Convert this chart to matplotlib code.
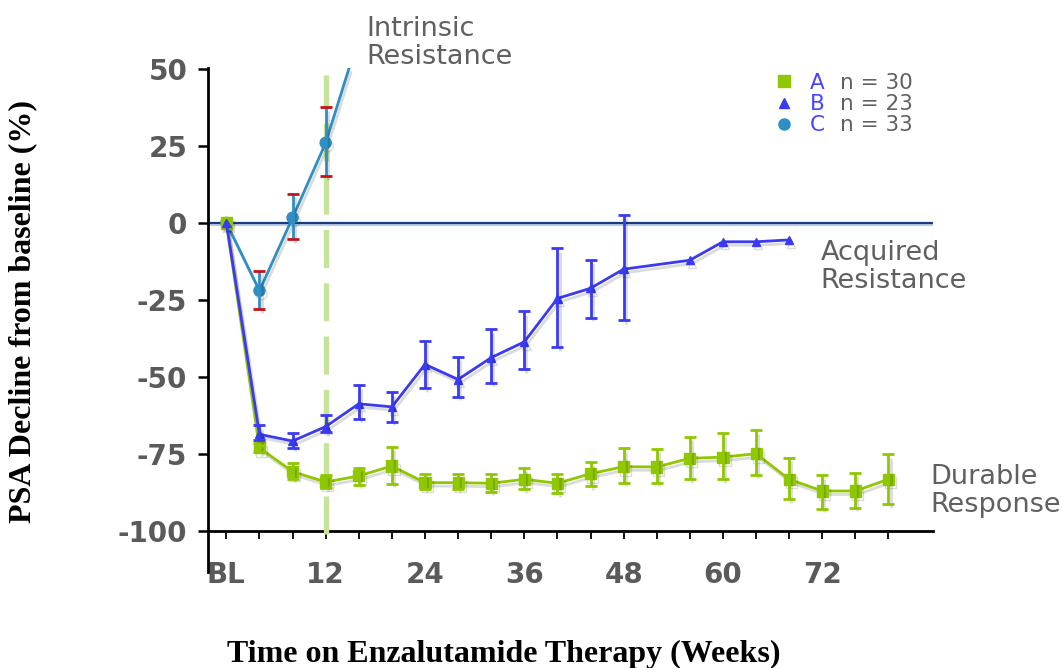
import numpy as np
import matplotlib
matplotlib.use("Agg")
import matplotlib.pyplot as plt
import matplotlib.patheffects as pe
from matplotlib.lines import Line2D
from matplotlib.transforms import IdentityTransform

# weeks on therapy (0 = baseline)
a_weeks = [0, 4, 8, 12, 16, 20, 24, 28, 32, 36, 40, 44, 48, 52, 56, 60, 64, 68, 72, 76, 80]
a_vals = [0, -73, -80.7, -84.1, -82.1, -78.9, -84.3, -84.3, -84.5, -83.2, -84.5, -81.4,
          -79.1, -79.2, -76.4, -76, -74.9, -83.2, -87, -87, -83.2]
a_hi = [np.nan, -71.5, -78, -81.7, -79.5, -72.7, -81.4, -81.4, -81.5, -79.4, -81.4, -77.5,
        -73.2, -73.3, -69.4, -68.3, -67.3, -76.2, -81.9, -81, -75.1]
a_lo = [np.nan, -74.5, -83, -86, -85, -84.6, -86.3, -86.3, -87.3, -86.5, -87.8, -85.4,
        -84.3, -84.3, -83.2, -83.2, -81.8, -89.7, -92.8, -92.5, -91.3]

b_weeks = [0, 4, 8, 12, 16, 20, 24, 28, 32, 36, 40, 44, 48, 56, 60, 64, 68]
b_vals = [0, -68.6, -70.8, -66.1, -58.7, -59.7, -45.9, -50.8, -43.7, -38.6, -24.5, -21.2,
          -15, -12.1, -6.1, -6.1, -5.5]
b_hi = [np.nan, -65.7, -68.3, -62.4, -52.7, -54.9, -38.3, -43.5, -34.5, -28.6, -8.2, -12,
        2.6, np.nan, np.nan, np.nan, np.nan]
b_lo = [np.nan, -70.5, -73, -68, -63.5, -64.5, -53.7, -56.5, -51.8, -47.5, -40.3, -30.7,
        -31.6, np.nan, np.nan, np.nan, np.nan]

c_weeks = [0, 4, 8, 12, 14.8]
c_vals = [0, -22, 1.7, 26, 50]
c_hi = [np.nan, -15.5, 9.4, 37.5, np.nan]
c_lo = [np.nan, -28, -5.3, 15.2, np.nan]

groups = ["A", "B", "C"]
group_n = [30, 23, 33]

x_ticks = list(range(0, 81, 4))
x_labels = {0: "BL", 12: "12", 24: "24", 36: "36", 48: "48", 60: "60", 72: "72"}
y_ticks = [-100, -75, -50, -25, 0, 25, 50]

green = "#8fc700"
blue = "#3a3af2"
teal = "#2f8ec4"
gray = "#5a5a5a"

shadow = [pe.SimpleLineShadow(offset=(1.5, -2.5), alpha=0.14), pe.Normal()]

fig = plt.figure(figsize=(10.62, 6.68), dpi=100)
ax = fig.add_axes([0.196, 0.1437, 0.6827, 0.7545])
ax.set_xlim(-2.2, 85.4)
ax.set_ylim(-113.3, 50.3)

# zero line
ax.axhline(0, color="#1b3c7c", lw=1.6, zorder=2,
           path_effects=[pe.SimpleLineShadow(offset=(0, -1.5), shadow_color="#8fb0e0", alpha=0.6), pe.Normal()])

# week 12 dashed marker
ax.plot([12, 12], [-101, 48], color="#c6e39a", lw=3.8, dashes=(7.2, 2.9), zorder=3,
        solid_capstyle="butt")


def draw_series(weeks, vals, hi, lo, color, marker, ms, cap_color=None, markevery=None, z=4):
    weeks = np.array(weeks, float)
    vals = np.array(vals, float)
    hi = np.array(hi, float)
    lo = np.array(lo, float)
    ax.plot(weeks, vals, color=color, lw=2, marker=marker, ms=ms, markevery=markevery,
            zorder=z, path_effects=shadow)
    m = np.isfinite(hi)
    eb = ax.errorbar(weeks[m], vals[m], yerr=[vals[m] - lo[m], hi[m] - vals[m]], fmt="none",
                     ecolor=color, elinewidth=2, capsize=4, capthick=2, zorder=z)
    for bar in eb[2]:
        bar.set_path_effects(shadow)
    if cap_color:
        for cap in eb[1]:
            cap.set_color(cap_color)
            cap.set_markeredgecolor(cap_color)
            cap.set_zorder(z + 0.5)


draw_series(c_weeks, c_vals, c_hi, c_lo, teal, "o", 8, cap_color="#c8101a", markevery=[0, 1, 2, 3], z=4)
draw_series(a_weeks, a_vals, a_hi, a_lo, green, "s", 8, z=5)
draw_series(b_weeks, b_vals, b_hi, b_lo, blue, "^", 6, z=6)

# axes styling
for s in ["top", "right"]:
    ax.spines[s].set_visible(False)
ax.spines["bottom"].set_position(("data", -100))
ax.spines["left"].set_linewidth(2)
ax.spines["bottom"].set_linewidth(2)

ax.set_yticks(y_ticks)
ax.set_yticklabels([str(v) for v in y_ticks])
ax.set_xticks(x_ticks)
ax.set_xticklabels([x_labels.get(t, "") for t in x_ticks])
ax.tick_params(axis="y", direction="out", length=7, width=1.8, pad=8)
ax.tick_params(axis="x", direction="out", length=5.5, width=1.3, pad=16)
for lab in ax.get_xticklabels() + ax.get_yticklabels():
    lab.set_fontfamily("DejaVu Sans")
    lab.set_fontweight("bold")
    lab.set_fontsize(20)
    lab.set_color(gray)

ax.set_ylabel("PSA Decline from baseline (%)", family="Liberation Serif", weight="bold",
              fontsize=23, color="black")
ax.yaxis.set_label_coords(-0.236, 0.516)
fig.text(0.4746, 0.02, "Time on Enzalutamide Therapy (Weeks)", family="Liberation Serif",
         weight="bold", fontsize=23, ha="center", va="center")

# annotations
note_kw = dict(fontsize=19.5, color="#606060", va="center", ha="left", linespacing=1.1, clip_on=False)
ax.text(16.9, 58.3, "Intrinsic\nResistance", **note_kw)
ax.text(71.8, -14.2, "Acquired\nResistance", **note_kw)
ax.text(85.1, -87, "Durable\nResponse", **note_kw)

# legend
handles = [Line2D([], [], ls="", marker="s", color=green, ms=8),
           Line2D([], [], ls="", marker="^", color=blue, ms=7),
           Line2D([], [], ls="", marker="o", color=teal, ms=8)]
leg = ax.legend(handles, groups, loc="upper left", bbox_to_anchor=(773 / 1062, 1 - 73 / 668),
                bbox_transform=fig.transFigure, frameon=False, fontsize=15.5, handlelength=1.0,
                handletextpad=0.7, labelspacing=0.05, borderpad=0, borderaxespad=0,
                labelcolor="#4545ff")
fig.canvas.draw()
for t, n in zip(leg.get_texts(), group_n):
    bb = t.get_window_extent()
    fig.text(bb.x0 + 30, (bb.y0 + bb.y1) / 2, f"n = {n}", transform=IdentityTransform(),
             fontsize=15.5, color="#606060", va="center", ha="left")

fig.savefig("out.png", dpi=100)
